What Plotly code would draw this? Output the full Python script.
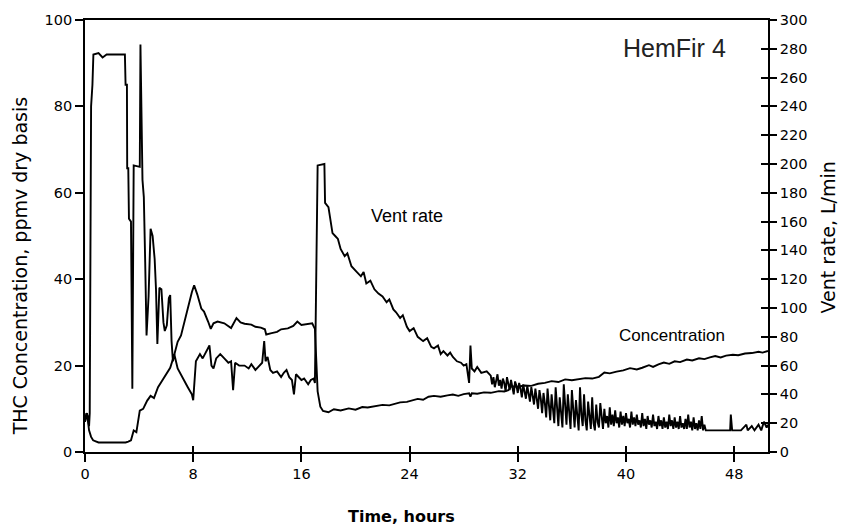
import plotly.graph_objects as go

# ---------------- data ----------------
# Concentration, ppmv dry basis (left axis)
conc_hours = [0.0, 0.15, 0.3, 0.45, 0.6, 0.8, 1.0, 1.5, 2.0, 2.5, 3.0, 3.2, 3.4, 3.6, 3.8, 4.05,
              4.3, 4.6, 4.85, 5.1, 5.4, 5.7, 6.0, 6.3, 6.6, 6.85, 7.1, 7.4, 7.7, 7.9, 8.07, 8.3,
              8.6, 8.8, 9.1, 9.3, 9.5, 9.8, 10.3, 10.8, 11.2, 11.5, 11.8, 12.3, 12.6, 13.0, 13.3,
              13.4, 13.8, 14.2, 14.5, 15.0, 15.4, 15.7, 16.0, 16.4, 16.8, 17.0, 17.1, 17.2, 17.4,
              17.6, 18.0, 18.4, 18.9, 19.5, 20.0, 20.5, 20.9, 21.5, 22.0, 22.5, 23.0, 23.3, 23.8,
              24.2, 24.6, 25.0, 25.4, 25.8, 26.3, 26.8, 27.2, 27.6, 28.0, 28.4, 28.5, 28.6, 29.0,
              29.5, 30.0, 30.6, 31.0, 31.3, 31.5, 32.0, 32.5, 33.0, 33.5, 34.0, 34.5, 35.0, 35.5,
              36.0, 36.5, 37.0, 37.5, 38.0, 38.4, 38.8, 39.3, 39.8, 40.3, 40.8, 41.2, 41.7, 42.0,
              42.4, 42.8, 43.2, 43.6, 44.0, 44.5, 44.9, 45.4, 45.8, 46.2, 46.6, 47.0, 47.4, 47.9,
              48.3, 48.8, 49.3, 49.8, 50.1, 50.5]
conc_ppmv = [7.0, 9.0, 5.0, 3.5, 2.7, 2.4, 2.2, 2.2, 2.2, 2.2, 2.2, 2.4, 2.7, 5.0, 4.6, 9.6,
             10.0, 11.9, 13.0, 12.5, 15.0, 16.5, 18.0, 19.5, 22.5, 25.5, 27.0, 31.0, 35.0, 37.0, 38.6, 36.5,
             33.2, 32.5, 30.2, 28.5, 29.8, 30.2, 29.8, 28.7, 31.0, 30.0, 29.7, 29.5, 29.0, 28.8, 28.4,
             27.2, 27.5, 27.8, 28.4, 28.6, 29.2, 30.2, 29.4, 29.6, 29.8, 28.5, 20.0, 14.0, 10.5,
             9.5, 9.2, 9.9, 9.6, 10.1, 9.8, 10.4, 10.3, 10.6, 10.9, 10.8, 11.3, 11.5, 11.6,
             12.0, 12.3, 12.1, 12.8, 13.0, 12.8, 13.1, 13.3, 13.0, 13.4, 13.6, 12.8, 13.6, 13.5,
             13.8, 13.7, 14.1, 14.0, 14.3, 15.2, 15.1, 15.4, 15.3, 15.8, 16.0, 16.4, 16.2, 16.8,
             16.6, 16.9, 17.1, 17.0, 17.4, 18.4, 18.2, 18.6, 18.9, 19.4, 19.1, 19.5, 20.1, 19.7,
             20.3, 20.7, 20.4, 21.0, 20.8, 21.4, 21.2, 21.7, 21.5, 21.9, 22.2, 21.9, 22.3, 22.5,
             22.4, 22.8, 22.9, 23.2, 23.0, 23.4]

# Vent rate, L/min (right axis) -- part A: 0 to 30 h (irregular readings)
vent_hours_a = [0.0, 0.1, 0.2, 0.3, 0.35, 0.4, 0.45, 0.55, 0.62, 1.0, 1.3, 1.6, 2.0, 2.5, 2.95,
                3.0, 3.1, 3.12, 3.2, 3.25, 3.4, 3.5, 3.6, 4.05, 4.1, 4.25, 4.35, 4.45, 4.55, 4.7,
                4.85, 5.0, 5.15, 5.25, 5.35, 5.5, 5.65, 5.8, 5.9, 6.05, 6.2, 6.3, 6.4, 6.5, 6.6,
                6.85, 7.1, 7.3, 7.6, 7.9, 8.0, 8.2, 8.5, 8.7, 9.0, 9.2, 9.35, 9.5, 9.7, 10.0, 10.3,
                10.6, 10.8, 10.95, 11.1, 11.4, 11.8, 12.1, 12.3, 12.6, 12.8, 13.1, 13.25, 13.35, 13.5,
                13.7, 13.9, 14.2, 14.5, 14.7, 14.9, 15.1, 15.3, 15.45, 15.6, 15.8, 16.0, 16.2, 16.5,
                16.7, 16.9, 17.0, 17.1, 17.15, 17.2, 17.7, 17.75, 18.0, 18.1, 18.3, 18.5, 18.7, 18.9,
                19.2, 19.4, 19.7, 20.0, 20.4, 20.6, 20.8, 21.1, 21.4, 21.7, 22.0, 22.3, 22.5, 22.8,
                23.0, 23.3, 23.5, 23.8, 24.0, 24.3, 24.6, 25.0, 25.3, 25.6, 25.8, 26.1, 26.3, 26.5,
                26.8, 27.0, 27.2, 27.5, 27.8, 28.0, 28.2, 28.4, 28.5, 28.6, 28.8, 29.0, 29.3, 29.7]
vent_lpm_a = [21, 27, 25, 18, 27, 96, 240, 255, 276, 277, 274, 276, 276, 276, 276,
              255, 255, 197, 197, 162, 160, 44, 199, 198, 283, 189, 177, 132, 81, 108,
              155, 150, 134, 113, 75, 114, 113, 90, 84, 88, 107, 109, 77, 63, 68,
              58, 54, 50, 45, 40, 36, 63, 68, 65, 71, 74, 60, 58, 65, 68, 65,
              62, 63, 43, 62, 60, 60, 58, 61, 57, 59, 62, 77, 63, 66,
              57, 55, 56, 52, 55, 57, 52, 50, 40, 54, 52, 50, 51, 47,
              50, 51, 48, 110, 160, 199, 200, 173, 170, 164, 152, 150, 148, 141,
              136, 138, 129, 126, 122, 125, 117, 119, 113, 110, 108, 104, 106, 99,
              97, 93, 95, 87, 84, 86, 80, 77, 79, 73, 72, 74, 68, 70,
              67, 69, 66, 63, 62, 60, 61, 48, 74, 58, 56, 59, 55, 56]
# part B: 30.0 to 46.0 h, one reading every 0.1 h (dense, noisy band)
vent_lpm_b = [53, 47, 52, 45, 51, 54, 46, 50, 44, 51,
              48, 42, 52, 47, 43, 50, 45, 40, 49, 46,
              41, 48, 44, 38, 47, 42, 37, 46, 40, 35,
              45, 39, 33, 44, 36, 30, 43, 37, 27, 41,
              34, 24, 44, 35, 22, 40, 31, 20, 45, 29,
              18, 38, 26, 17, 47, 30, 19, 40, 25, 16,
              43, 28, 17, 36, 22, 15, 45, 26, 18, 40,
              22, 15, 35, 24, 16, 38, 20, 15, 33, 21,
              17, 34, 22, 16, 30, 20, 25, 17, 31, 19,
              26, 18, 29, 20, 24, 17, 28, 19, 25, 18,
              27, 20, 23, 17, 28, 19, 24, 18, 26, 19,
              22, 17, 27, 18, 23, 16, 25, 19, 22, 17,
              26, 18, 21, 16, 25, 18, 22, 16, 24, 17,
              21, 16, 26, 18, 22, 16, 24, 17, 21, 16,
              25, 17, 20, 16, 23, 16, 26, 17, 21, 15,
              24, 16, 20, 15, 22, 16, 25, 15, 19, 15,
              15]
vent_hours_b = [round(30.0 + 0.1 * i, 1) for i in range(len(vent_lpm_b))]
# part C: 46 h to end
vent_hours_c = [46.5, 47.0, 47.7, 47.75, 47.85, 48.5, 48.9, 49.0, 49.3, 49.5, 49.8, 50.0, 50.2, 50.4, 50.5]
vent_lpm_c = [15, 15, 15, 26, 15, 15, 19, 15, 18, 15, 19, 15, 21, 17, 19]

vent_hours = vent_hours_a + vent_hours_b + vent_hours_c
vent_lpm = vent_lpm_a + vent_lpm_b + vent_lpm_c

x_ticks = [0, 8, 16, 24, 32, 40, 48]
left_ticks = [0, 20, 40, 60, 80, 100]
right_ticks = list(range(0, 301, 20))

# ---------------- figure ----------------
LINE = dict(color="black", width=1.9)
TICKFONT = dict(family="DejaVu Sans", size=14.5, color="black")

fig = go.Figure()
fig.add_trace(go.Scatter(x=conc_hours, y=conc_ppmv, mode="lines", line=LINE,
                         xaxis="x", yaxis="y", name="Concentration"))
fig.add_trace(go.Scatter(x=vent_hours, y=vent_lpm, mode="lines", line=LINE,
                         xaxis="x", yaxis="y2", name="Vent rate"))
# empty helper trace so the overlay axes (inner half of the crossing ticks) are drawn
fig.add_trace(go.Scatter(x=[], y=[], xaxis="x2", yaxis="y3", showlegend=False))

fig.update_layout(
    width=843, height=531,
    margin=dict(l=85, r=75, t=15, b=79),
    paper_bgcolor="white", plot_bgcolor="white",
    showlegend=False,
    xaxis=dict(range=[0, 50.5], tickvals=x_ticks, ticks="outside", ticklen=8, tickwidth=1.5,
               tickcolor="black", showline=True, linecolor="black", linewidth=1.6,
               mirror=True, showgrid=False, zeroline=False, tickfont=TICKFONT),
    yaxis=dict(range=[0, 100], tickvals=left_ticks, ticks="outside", ticklen=8, tickwidth=1.5,
               tickcolor="black", showline=True, linecolor="black", linewidth=1.6,
               showgrid=False, zeroline=False, tickfont=TICKFONT),
    yaxis2=dict(range=[0, 300], tickvals=right_ticks, overlaying="y", side="right",
                ticks="outside", ticklen=7, tickwidth=1.5, tickcolor="black",
                showline=True, linecolor="black", linewidth=1.6,
                showgrid=False, zeroline=False, tickfont=TICKFONT),
    xaxis2=dict(range=[0, 50.5], tickvals=x_ticks, overlaying="x", anchor="y3",
                ticks="inside", ticklen=6, tickwidth=1.5, tickcolor="black",
                showticklabels=False, showline=False, showgrid=False, zeroline=False),
    yaxis3=dict(range=[0, 300], tickvals=right_ticks, overlaying="y", side="right",
                anchor="x2", ticks="inside", ticklen=7, tickwidth=1.5, tickcolor="black",
                showticklabels=False, showline=False, showgrid=False, zeroline=False),
)

fig.add_annotation(text="THC Concentration, ppmv dry basis", xref="paper", yref="paper",
                   x=-0.095, y=0.43, xanchor="center", yanchor="middle",
                   textangle=-90, showarrow=False,
                   font=dict(family="DejaVu Sans", size=19, color="black"))
fig.add_annotation(text="Vent rate, L/min", xref="paper", yref="paper",
                   x=1.088, y=0.497, xanchor="center", yanchor="middle",
                   textangle=-90, showarrow=False,
                   font=dict(family="DejaVu Sans", size=19, color="black"))
fig.add_annotation(text="<b>Time, hours</b>", xref="paper", yref="paper",
                   x=0.464, y=-0.149, xanchor="center", yanchor="middle", showarrow=False,
                   font=dict(family="DejaVu Sans", size=16, color="black"))
fig.add_annotation(text="HemFir 4", xref="x", yref="y", x=43.6, y=93.6, showarrow=False,
                   font=dict(family="Liberation Sans", size=25, color="#222"))
fig.add_annotation(text="Vent rate", xref="x", yref="y", x=23.8, y=54.7, showarrow=False,
                   font=dict(family="Liberation Sans", size=18, color="black"))
fig.add_annotation(text="Concentration", xref="x", yref="y", x=43.4, y=27.0, showarrow=False,
                   font=dict(family="Liberation Sans", size=17, color="black"))

fig.write_html("out.html")
